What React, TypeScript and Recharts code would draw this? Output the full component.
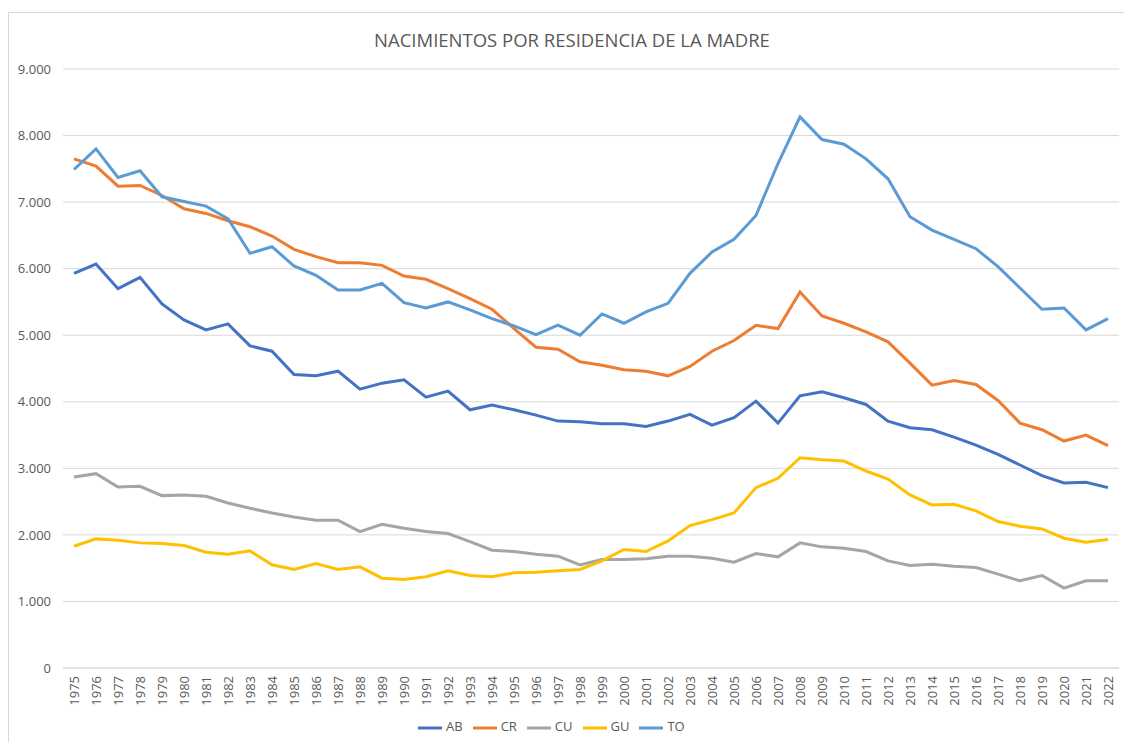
import { LineChart, Line, XAxis, YAxis, CartesianGrid, Legend } from "recharts";

const years = [
  "1975", "1976", "1977", "1978", "1979", "1980", "1981", "1982", "1983", "1984",
  "1985", "1986", "1987", "1988", "1989", "1990", "1991", "1992", "1993", "1994",
  "1995", "1996", "1997", "1998", "1999", "2000", "2001", "2002", "2003", "2004",
  "2005", "2006", "2007", "2008", "2009", "2010", "2011", "2012", "2013", "2014",
  "2015", "2016", "2017", "2018", "2019", "2020", "2021", "2022",
];

const ab = [
  5930, 6070, 5700, 5870, 5470, 5230, 5080, 5170, 4840, 4760,
  4410, 4390, 4460, 4190, 4280, 4330, 4070, 4160, 3880, 3950,
  3880, 3800, 3710, 3700, 3670, 3670, 3630, 3710, 3810, 3650,
  3760, 4010, 3680, 4090, 4150, 4060, 3960, 3710, 3610, 3580,
  3470, 3350, 3210, 3050, 2890, 2780, 2790, 2710,
];

const cr = [
  7650, 7540, 7240, 7250, 7100, 6900, 6830, 6720, 6630, 6490,
  6290, 6180, 6090, 6090, 6050, 5890, 5840, 5700, 5550, 5390,
  5100, 4820, 4790, 4600, 4550, 4480, 4460, 4390, 4530, 4760,
  4920, 5150, 5100, 5650, 5290, 5180, 5050, 4900, 4580, 4250,
  4320, 4260, 4020, 3680, 3580, 3410, 3500, 3340,
];

const cu = [
  2870, 2920, 2720, 2730, 2590, 2600, 2580, 2480, 2400, 2330,
  2270, 2220, 2220, 2050, 2160, 2100, 2050, 2020, 1900, 1770,
  1750, 1710, 1680, 1550, 1630, 1630, 1640, 1680, 1680, 1650,
  1590, 1720, 1670, 1880, 1820, 1800, 1750, 1610, 1540, 1560,
  1530, 1510, 1410, 1310, 1390, 1200, 1310, 1310,
];

const gu = [
  1830, 1940, 1920, 1880, 1870, 1840, 1740, 1710, 1760, 1550,
  1480, 1570, 1480, 1520, 1350, 1330, 1370, 1460, 1390, 1370,
  1430, 1440, 1460, 1480, 1610, 1780, 1750, 1910, 2140, 2230,
  2330, 2710, 2850, 3160, 3130, 3110, 2960, 2840, 2600, 2450,
  2460, 2360, 2200, 2130, 2090, 1950, 1890, 1930,
];

const to = [
  7490, 7800, 7370, 7470, 7080, 7010, 6940, 6750, 6230, 6330,
  6040, 5900, 5680, 5680, 5780, 5490, 5410, 5500, 5380, 5250,
  5140, 5010, 5150, 5000, 5320, 5180, 5350, 5480, 5930, 6250,
  6440, 6800, 7580, 8280, 7940, 7870, 7650, 7350, 6780, 6580,
  6440, 6300, 6030, 5710, 5390, 5410, 5080, 5250,
];

const yTicks = [0, 1000, 2000, 3000, 4000, 5000, 6000, 7000, 8000, 9000];

const series = [
  { key: "AB", values: ab, color: "#4472C4" },
  { key: "CR", values: cr, color: "#ED7D31" },
  { key: "CU", values: cu, color: "#A5A5A5" },
  { key: "GU", values: gu, color: "#FFC000" },
  { key: "TO", values: to, color: "#5B9BD5" },
];

const chartData = years.map((year, i) => {
  const row: Record<string, string | number> = { year };
  series.forEach((s) => {
    row[s.key] = s.values[i];
  });
  return row;
});

const FONT = "'Open Sans', 'Noto Sans', sans-serif";
const TEXT_COLOR = "#595959";

const formatThousands = (v: number) =>
  v === 0 ? "0" : v.toLocaleString("de-DE");

function YearTick(props: any) {
  const { x, y, payload } = props;
  return (
    <text
      x={x}
      y={y}
      transform={`rotate(-90 ${x} ${y})`}
      textAnchor="end"
      dominantBaseline="central"
      fill={TEXT_COLOR}
      fontSize={13}
      fontFamily={FONT}
    >
      {payload.value}
    </text>
  );
}

export default function App() {
  return (
    <div style={{ position: "absolute", left: 0, top: 0, width: 1124, height: 742, background: "#fff", overflow: "hidden" }}>
      <div
        style={{
          position: "absolute",
          left: 8,
          top: 12,
          width: 1140,
          height: 760,
          border: "1px solid #d9d9d9",
        }}
      />
      <div
        style={{
          position: "absolute",
          left: 0,
          top: 27,
          width: 1144,
          textAlign: "center",
          fontFamily: FONT,
          fontSize: 18.5,
          color: TEXT_COLOR,
        }}
      >
        NACIMIENTOS POR RESIDENCIA DE LA MADRE
      </div>
      <LineChart
        width={1124}
        height={742}
        data={chartData}
        margin={{ top: 69, right: 5, left: 8, bottom: 24 }}
      >
        <CartesianGrid vertical={false} stroke="#d9d9d9" strokeWidth={1} />
        <XAxis
          dataKey="year"
          interval={0}
          height={50}
          padding={{ left: 11, right: 11 }}
          axisLine={{ stroke: "#d9d9d9" }}
          tickLine={false}
          tick={<YearTick />}
          tickMargin={2}
        />
        <YAxis
          width={55}
          domain={[0, 9000]}
          ticks={yTicks}
          interval={0}
          axisLine={false}
          tickLine={false}
          tickMargin={6}
          tickFormatter={formatThousands}
          tick={{ fill: TEXT_COLOR, fontSize: 13, fontFamily: FONT }}
        />
        <Legend
          layout="horizontal"
          verticalAlign="middle"
          align="center"
          iconType="plainline"
          iconSize={24}
          wrapperStyle={{
            position: "absolute",
            left: 418,
            top: 716,
            width: "auto",
            fontFamily: FONT,
            fontSize: 13,
            color: TEXT_COLOR,
          }}
          formatter={(value: string) => <span style={{ color: TEXT_COLOR }}>{value}</span>}
        />
        {series.map((s) => (
          <Line
            key={s.key}
            dataKey={s.key}
            name={s.key}
            type="linear"
            stroke={s.color}
            strokeWidth={3}
            dot={false}
            activeDot={false}
            isAnimationActive={false}
          />
        ))}
      </LineChart>
    </div>
  );
}
